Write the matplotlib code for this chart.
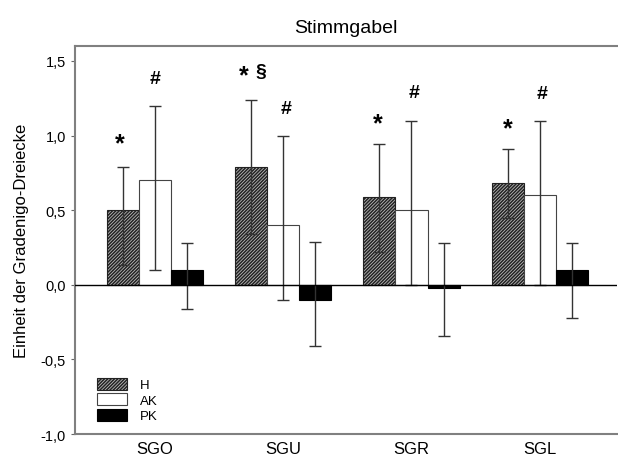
import numpy as np
import matplotlib
matplotlib.use("Agg")
import matplotlib.pyplot as plt
from matplotlib.patches import Patch

plt.rcParams['font.family'] = ['Liberation Sans', 'DejaVu Sans']
plt.rcParams['hatch.linewidth'] = 1.1

# data
groups = ["SGO", "SGU", "SGR", "SGL"]
series = ["H", "AK", "PK"]
h_vals = [0.50, 0.79, 0.585, 0.68]
h_hi = [0.79, 1.24, 0.94, 0.91]
h_lo = [0.13, 0.34, 0.22, 0.45]
ak_vals = [0.70, 0.40, 0.50, 0.60]
ak_hi = [1.20, 1.00, 1.10, 1.10]
ak_lo = [0.10, -0.10, 0.00, 0.00]
pk_vals = [0.10, -0.10, -0.02, 0.10]
pk_hi = [0.28, 0.29, 0.28, 0.28]
pk_lo = [-0.16, -0.41, -0.34, -0.22]

# significance marks: (group, offset, y, text)
marks = [
    (0, -0.27, 0.95, "*"), (0, 0.0, 1.38, "#"),
    (1, -0.31, 1.40, "*"), (1, -0.17, 1.43, "§"), (1, 0.02, 1.18, "#"),
    (2, -0.26, 1.08, "*"), (2, 0.02, 1.29, "#"),
    (3, -0.25, 1.05, "*"), (3, 0.02, 1.28, "#"),
]
yticks = [-1.0, -0.5, 0.0, 0.5, 1.0, 1.5]
ytick_labels = ["-1,0", "-0,5", "0,0", "0,5", "1,0", "1,5"]

fig = plt.figure(figsize=(6.18, 4.6), dpi=100)
ax = fig.add_axes([0.121, 0.054, 0.877, 0.844])

x = np.arange(len(groups))
w = 0.25

styles = [
    dict(facecolor="#bbbbbb", edgecolor="#222222", hatch="//////////"),
    dict(facecolor="white", edgecolor="#444444"),
    dict(facecolor="black", edgecolor="black"),
]
all_vals = [h_vals, ak_vals, pk_vals]
all_hi = [h_hi, ak_hi, pk_hi]
all_lo = [h_lo, ak_lo, pk_lo]

for k in range(3):
    pos = x + (k - 1) * w
    v = np.array(all_vals[k])
    hi = np.array(all_hi[k])
    lo = np.array(all_lo[k])
    ax.bar(pos, v, width=w, linewidth=0.8, zorder=2, **styles[k])
    ax.errorbar(pos, v, yerr=[v - lo, hi - v], fmt="none", ecolor="#333333",
                elinewidth=1.0, capsize=4, capthick=1.0, zorder=3)

ax.axhline(0, color="black", linewidth=1.0, zorder=4)

for g, off, yy, t in marks:
    fs = 18 if t == "*" else 14
    ax.text(g + off, yy, t, ha="center", va="center", fontsize=fs,
            fontweight="bold")

ax.set_xlim(-0.624, 3.60)
ax.set_ylim(-1.0, 1.6)
ax.set_xticks(x)
ax.set_xticklabels(groups, fontsize=12)
ax.tick_params(axis="x", length=0, pad=5)
ax.set_yticks(yticks)
ax.set_yticklabels(ytick_labels, fontsize=10.5)
ax.tick_params(axis="y", length=3, width=0.8, color="#666666")
ax.set_ylabel("Einheit der Gradenigo-Dreiecke", fontsize=12, labelpad=8)
ax.set_title("Stimmgabel", fontsize=14, pad=10)

for s in ["left", "top", "bottom"]:
    ax.spines[s].set_color("#808080")
    ax.spines[s].set_linewidth(1.5)
ax.spines["right"].set_visible(False)

handles = [Patch(linewidth=0.8, **st) for st in styles]
ax.legend(handles, series, loc="lower left", bbox_to_anchor=(0.02, 0.0),
          frameon=False, fontsize=9.5, handlelength=2.2, handleheight=1.0,
          labelspacing=0.15, handletextpad=1.0)

fig.savefig("out.png", dpi=100)
